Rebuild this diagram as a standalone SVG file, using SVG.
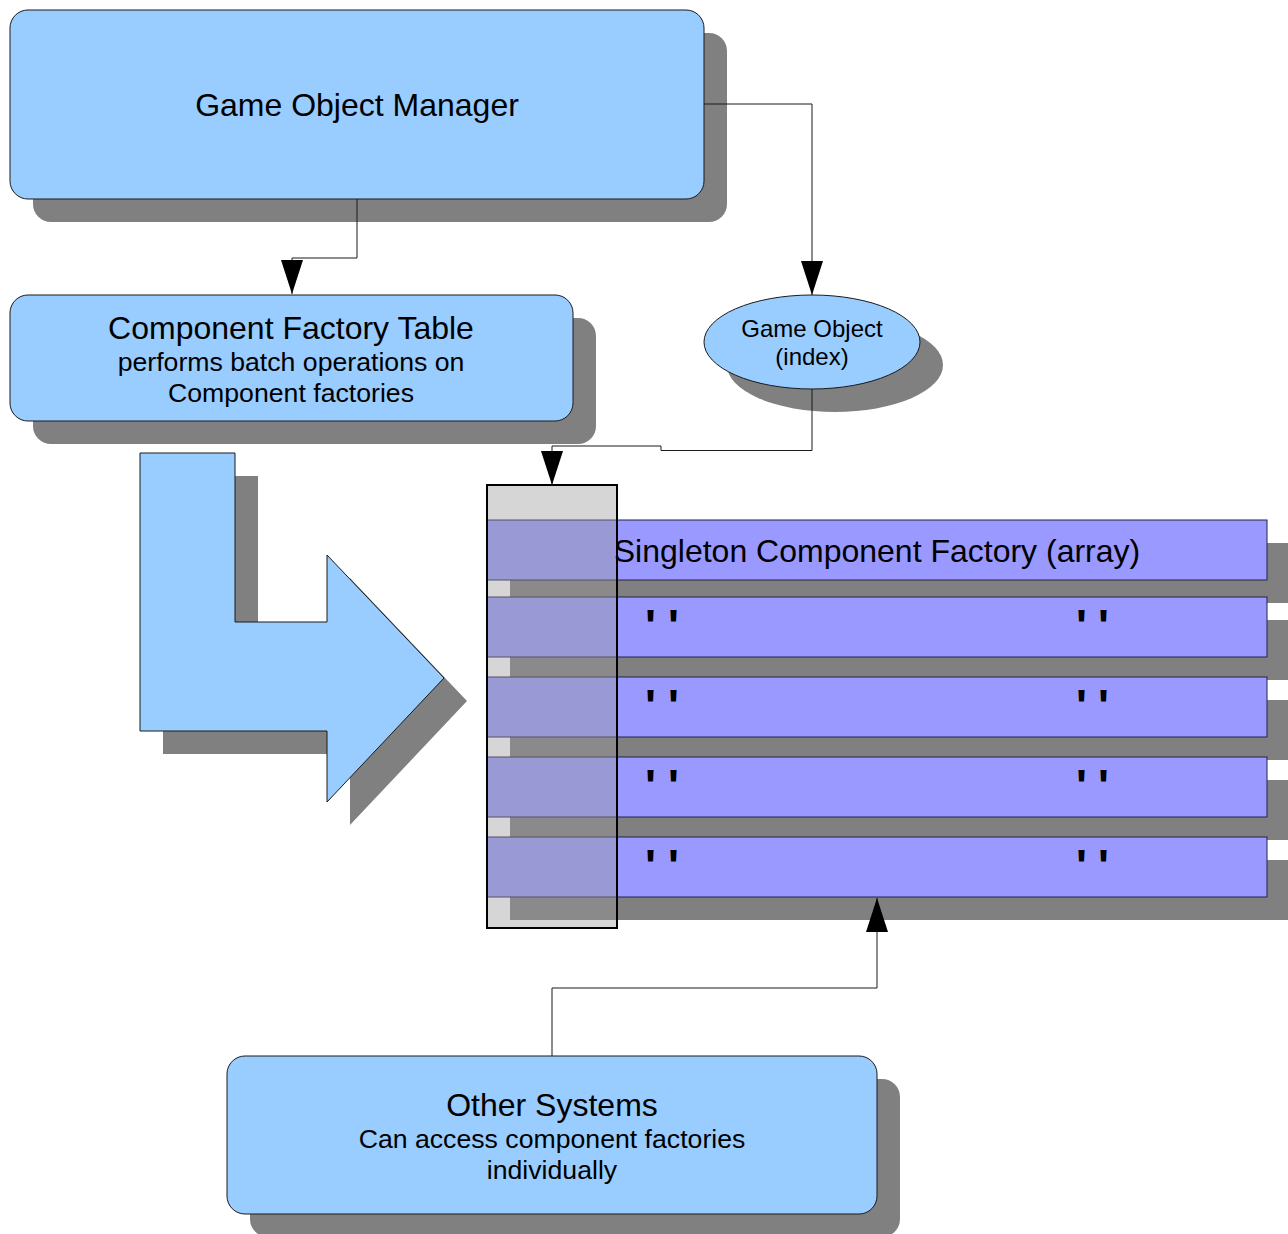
<svg xmlns="http://www.w3.org/2000/svg" width="1288" height="1234" viewBox="0 0 1288 1234">
  <defs>
    <style>
      .shadow { fill: #808080; stroke: none; }
      .box { fill: #99ccff; stroke: #1a1a1a; stroke-width: 1; }
      .bar { fill: #9999ff; stroke: #222244; stroke-width: 1; }
      .wire { fill: none; stroke: #1a1a1a; stroke-width: 1; }
      .title { font-family: "Liberation Sans", Arial, sans-serif; font-size: 32px; fill: #000; text-anchor: middle; }
      .sub { font-family: "Liberation Sans", Arial, sans-serif; font-size: 26.67px; fill: #000; text-anchor: middle; }
      .small { font-family: "Liberation Sans", Arial, sans-serif; font-size: 24px; fill: #000; text-anchor: middle; }
      .ditto { font-family: "Liberation Sans", Arial, sans-serif; font-size: 46px; font-weight: bold; fill: #000; }
    </style>
    <marker id="head" viewBox="0 0 34 22" refX="34" refY="11" markerWidth="34" markerHeight="22" markerUnits="userSpaceOnUse" orient="auto">
      <path d="M0,0 L34,11 L0,22 Z" fill="#000"/>
    </marker>
  </defs>

  <!-- Game Object Manager -->
  <g id="game-object-manager">
    <rect class="shadow" x="33" y="33" width="694" height="189" rx="18"/>
    <rect class="box" x="10" y="10" width="694" height="189" rx="18"/>
    <text class="title" x="357" y="116">Game Object Manager</text>
  </g>

  <!-- Component Factory Table -->
  <g id="component-factory-table">
    <rect class="shadow" x="33" y="318" width="563" height="126" rx="18"/>
    <rect class="box" x="10" y="295" width="563" height="126" rx="18"/>
    <text class="title" x="291" y="339">Component Factory Table</text>
    <text class="sub" x="291" y="371">performs batch operations on</text>
    <text class="sub" x="291" y="402">Component factories</text>
  </g>

  <!-- Game Object (index) -->
  <g id="game-object-index">
    <ellipse class="shadow" cx="835" cy="365" rx="108" ry="47"/>
    <ellipse class="box" cx="812" cy="342" rx="108" ry="47"/>
    <text class="small" x="812" y="337">Game Object</text>
    <text class="small" x="812" y="365">(index)</text>
  </g>

  <!-- Big bent arrow -->
  <g id="bent-arrow">
    <polygon class="shadow" points="163,476 258,476 258,645 350,645 350,578 467,701 350,825 350,754 163,754"/>
    <polygon class="box" points="140,453 235,453 235,622 327,622 327,555 444,678 327,802 327,731 140,731"/>
  </g>

  <!-- Singleton component factory array -->
  <g id="factory-array">
    <rect class="shadow" x="510" y="543" width="800" height="60"/>
    <rect class="shadow" x="510" y="620" width="800" height="60"/>
    <rect class="shadow" x="510" y="700" width="800" height="60"/>
    <rect class="shadow" x="510" y="780" width="800" height="60"/>
    <rect class="shadow" x="510" y="860" width="800" height="60"/>
    <rect class="bar" x="487" y="520" width="780" height="60"/>
    <rect class="bar" x="487" y="597" width="780" height="60"/>
    <rect class="bar" x="487" y="677" width="780" height="60"/>
    <rect class="bar" x="487" y="757" width="780" height="60"/>
    <rect class="bar" x="487" y="837" width="780" height="60"/>
    <text class="title" x="877" y="562">Singleton Component Factory (array)</text>
    <text class="ditto" x="645 668" y="642">''</text>
    <text class="ditto" x="1076 1098" y="642">''</text>
    <text class="ditto" x="645 668" y="722">''</text>
    <text class="ditto" x="1076 1098" y="722">''</text>
    <text class="ditto" x="645 668" y="802">''</text>
    <text class="ditto" x="1076 1098" y="802">''</text>
    <text class="ditto" x="645 668" y="882">''</text>
    <text class="ditto" x="1076 1098" y="882">''</text>
    <!-- index column laid over the bars -->
    <rect x="487" y="485" width="130" height="443" fill="#999999" fill-opacity="0.4" stroke="#000" stroke-width="2"/>
  </g>

  <!-- Other Systems -->
  <g id="other-systems">
    <rect class="shadow" x="250" y="1079" width="650" height="158" rx="18"/>
    <rect class="box" x="227" y="1056" width="650" height="158" rx="18"/>
    <text class="title" x="552" y="1116">Other Systems</text>
    <text class="sub" x="552" y="1148">Can access component factories</text>
    <text class="sub" x="552" y="1179">individually</text>
  </g>

  <!-- Connectors -->
  <g id="connectors">
    <polyline class="wire" points="357,199 357,258 292,258 292,294" marker-end="url(#head)"/>
    <polyline class="wire" points="704,104 812,104 812,295" marker-end="url(#head)"/>
    <polyline class="wire" points="812,389 812,450.5 661,450.5 661,446 552,446 552,485" marker-end="url(#head)"/>
    <polyline class="wire" points="552,1056 552,988 877,988 877,898" marker-end="url(#head)"/>
  </g>
</svg>
